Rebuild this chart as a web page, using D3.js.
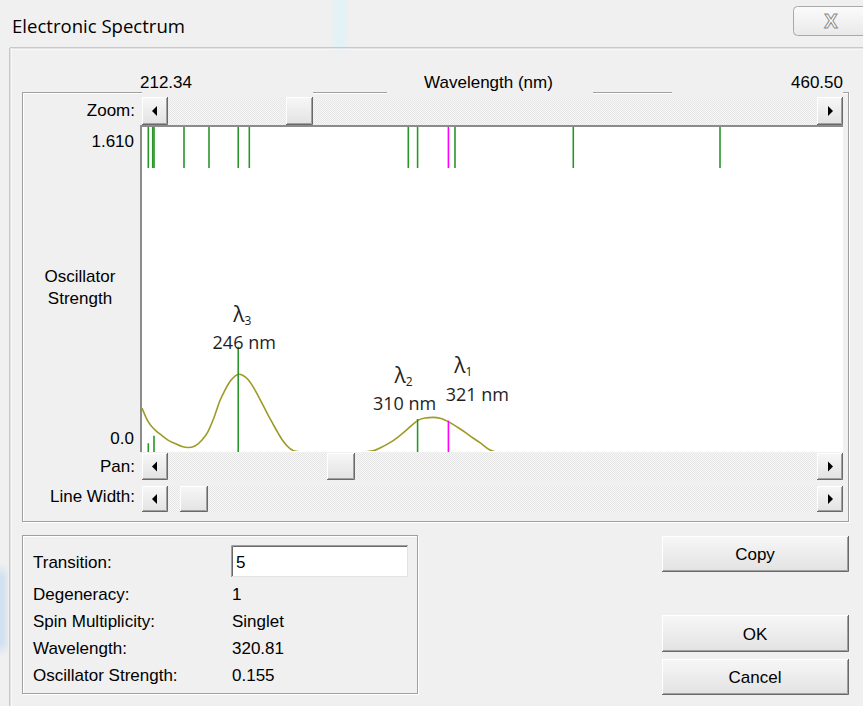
<!DOCTYPE html>
<html>
<head>
<meta charset="utf-8">
<script src="https://cdn.jsdelivr.net/npm/d3@7"></script>
<style>
  html, body { margin: 0; padding: 0; background: #f0f0f0; }
  svg { display: block; }
</style>
</head>
<body>
<svg id="dlg" width="863" height="706"></svg>
<script>
// ---- Spectrum data -------------------------------------------------------
// Computed excitations: wavelength (nm) and oscillator strength
const transitionNm = [214.57, 216.13, 216.59, 227.21, 236.06, 246.40, 250.33, 306.61, 309.90, 320.81, 323.14, 365.02, 416.96];
const oscStrength  = [0.043, 0.003, 0.080, 0.004, 0.002, 0.520, 0.001, 0.002, 0.163, 0.155, 0.001, 0.000, 0.000];

// Currently selected transition
const selectedIndex = 5;
const selectedNm = 320.81;
const selectedStrength = 0.155;
const selectedDegeneracy = 1;
const selectedSpin = "Singlet";

// Broadened absorption envelope
const curveNm = [212.34, 214.46, 216.94, 219.42, 221.54, 224.02, 226.50, 228.62, 231.10, 233.58,
                 235.70, 237.83, 239.95, 241.72, 243.49, 245.26, 246.68, 248.09, 249.86, 251.63,
                 253.40, 255.17, 256.95, 258.72, 260.49, 262.26, 264.74, 267.21, 270.00, 280.00,
                 290.00, 294.12, 296.59, 300.13, 302.96, 306.04, 307.92, 310.04, 312.52, 315.35,
                 318.18, 321.37, 324.20, 327.28, 329.52, 331.99, 335.53, 338.01, 345.00, 360.00,
                 400.00, 460.50];
const curveF  = [0.217, 0.151, 0.109, 0.081, 0.059, 0.042, 0.027, 0.022, 0.030, 0.059,
                 0.101, 0.170, 0.254, 0.306, 0.348, 0.375, 0.384, 0.378, 0.358, 0.323,
                 0.279, 0.232, 0.183, 0.138, 0.094, 0.054, 0.017, 0.002, 0.000, 0.000,
                 0.000, 0.006, 0.020, 0.046, 0.074, 0.109, 0.133, 0.156, 0.168, 0.171,
                 0.165, 0.145, 0.121, 0.092, 0.069, 0.046, 0.010, 0.000, 0.000, 0.000,
                 0.000, 0.000];

// Axis range and labels
const wavelengthRange = [212.34, 460.50];
const strengthRange = [0, 1.610];
const axisTitle = "Wavelength (nm)";
const yTitle = ["Oscillator", "Strength"];

// Annotated peaks
const peakNm  = [246.40, 309.90, 320.81];
const peakF   = [0.520, 0.163, 0.155];
const peakSub = ["3", "2", "1"];

// ---- Drawing -------------------------------------------------------------
const svg = d3.select("#dlg");
const UI = "'Liberation Sans', Arial, sans-serif";
const BG = "#f0f0f0";

const defs = svg.append("defs");
const dither = defs.append("pattern").attr("id", "dither")
  .attr("width", 2).attr("height", 2).attr("patternUnits", "userSpaceOnUse");
dither.append("rect").attr("width", 2).attr("height", 2).attr("fill", "#f7f7f7");
dither.append("rect").attr("width", 1).attr("height", 1).attr("fill", "#e6e6e6");
dither.append("rect").attr("x", 1).attr("y", 1).attr("width", 1).attr("height", 1).attr("fill", "#e6e6e6");

const btnGrad = defs.append("linearGradient").attr("id", "btnGrad").attr("x1", 0).attr("y1", 0).attr("x2", 0).attr("y2", 1);
btnGrad.append("stop").attr("offset", 0).attr("stop-color", "#f7f7f7");
btnGrad.append("stop").attr("offset", 1).attr("stop-color", "#e2e2e2");

const closeGrad = defs.append("linearGradient").attr("id", "closeGrad").attr("x1", 0).attr("y1", 0).attr("x2", 0).attr("y2", 1);
closeGrad.append("stop").attr("offset", 0).attr("stop-color", "#fbfbfb");
closeGrad.append("stop").attr("offset", 1).attr("stop-color", "#e9e9e9");

defs.append("filter").attr("id", "soft").append("feGaussianBlur").attr("stdDeviation", 4);

defs.append("clipPath").attr("id", "plotClip").append("rect")
  .attr("x", 142).attr("y", 127).attr("width", 701).attr("height", 324);

svg.append("rect").attr("width", 863).attr("height", 706).attr("fill", BG);

// faint desktop glow behind the window frame
svg.append("rect").attr("x", 334).attr("y", -10).attr("width", 12).attr("height", 60)
  .attr("fill", "#d9f3fa").attr("opacity", 0.8).attr("filter", "url(#soft)");
svg.append("rect").attr("x", -6).attr("y", 570).attr("width", 12).attr("height", 80)
  .attr("fill", "#b9d6ee").attr("opacity", 0.7).attr("filter", "url(#soft)");

function txt(x, y, s, opts = {}) {
  const t = svg.append("text").attr("x", x).attr("y", y)
    .attr("font-family", opts.family || UI)
    .attr("font-size", opts.size || 17)
    .attr("fill", opts.fill || "#000")
    .attr("text-anchor", opts.anchor || "start")
    .text(s);
  return t;
}

function etchedLine(x1, y1, x2, y2) {
  const horiz = y1 === y2;
  svg.append("line").attr("x1", x1).attr("y1", y1).attr("x2", x2).attr("y2", y2)
    .attr("stroke", "#a0a0a0").attr("stroke-width", 1);
  svg.append("line")
    .attr("x1", x1 + (horiz ? 0 : 1)).attr("y1", y1 + (horiz ? 1 : 0))
    .attr("x2", x2 + (horiz ? 0 : 1)).attr("y2", y2 + (horiz ? 1 : 0))
    .attr("stroke", "#ffffff").attr("stroke-width", 1);
}

function etchedBox(x0, y0, x1, y1) {
  svg.append("rect").attr("x", x0 + 1.5).attr("y", y0 + 1.5).attr("width", x1 - x0 - 1).attr("height", y1 - y0 - 1)
    .attr("fill", "none").attr("stroke", "#ffffff");
  svg.append("rect").attr("x", x0 + 0.5).attr("y", y0 + 0.5).attr("width", x1 - x0 - 1).attr("height", y1 - y0 - 1)
    .attr("fill", "none").attr("stroke", "#a0a0a0");
}

function raised(x0, y0, x1, y1, fill) {
  const g = svg.append("g");
  g.append("rect").attr("x", x0).attr("y", y0).attr("width", x1 - x0).attr("height", y1 - y0)
    .attr("fill", fill || "url(#btnGrad)");
  g.append("path").attr("d", `M${x0 + 0.5},${y1 - 1}V${y0 + 0.5}H${x1 - 1}`)
    .attr("fill", "none").attr("stroke", "#ffffff");
  g.append("path").attr("d", `M${x0 + 1},${y1 - 1.5}H${x1 - 1.5}V${y0 + 1}`)
    .attr("fill", "none").attr("stroke", "#a0a0a0");
  g.append("path").attr("d", `M${x0},${y1 - 0.5}H${x1 - 0.5}V${y0}`)
    .attr("fill", "none").attr("stroke", "#696969");
  return g;
}

function scrollbar(x0, x1, y0, y1, t0, t1) {
  svg.append("rect").attr("x", x0).attr("y", y0).attr("width", x1 - x0).attr("height", y1 - y0)
    .attr("fill", "url(#dither)");
  const cy = (y0 + y1) / 2;
  raised(x0, y0, x0 + 26, y1);
  raised(x1 - 26, y0, x1, y1);
  raised(t0, y0, t1, y1);
  const lx = x0 + 13, rx = x1 - 13;
  svg.append("path").attr("d", `M${lx + 2},${cy - 5}L${lx - 3},${cy}L${lx + 2},${cy + 5}Z`).attr("fill", "#000");
  svg.append("path").attr("d", `M${rx - 2},${cy - 5}L${rx + 3},${cy}L${rx - 2},${cy + 5}Z`).attr("fill", "#000");
}

// window title and close button
txt(12, 33, "Electronic Spectrum", { family: "'Open Sans', 'Noto Sans', sans-serif", size: 18, fill: "#000" })
  .attr("textLength", 173).attr("lengthAdjust", "spacingAndGlyphs");
svg.append("rect").attr("x", 793.5).attr("y", 6.5).attr("width", 80).attr("height", 29).attr("rx", 4)
  .attr("fill", "url(#closeGrad)").attr("stroke", "#a9a9a9");
svg.append("text").attr("x", 831).attr("y", 28).attr("text-anchor", "middle")
  .attr("font-family", UI).attr("font-size", 20).attr("font-weight", "bold")
  .attr("fill", "#ffffff").attr("stroke", "#8a8a8a").attr("stroke-width", 1).text("X");

// outer frame
etchedLine(10, 48, 863, 48);
etchedLine(10, 48, 10, 706);

// spectrum panel
etchedBox(22, 92, 849, 522);
// static text controls above the zoom bar hide parts of the panel border
[[142, 313], [387, 593], [672, 843]].forEach(([a, b]) =>
  svg.append("rect").attr("x", a).attr("y", 66).attr("width", b - a).attr("height", 28).attr("fill", BG));

// scales
const x = d3.scaleLinear().domain(wavelengthRange).range([142, 843]);
const y = d3.scaleLinear().domain(strengthRange).range([452, 126]);

txt(x(wavelengthRange[0]) + 24, 88, wavelengthRange[0].toFixed(2), { anchor: "middle" });
txt((x.range()[0] + x.range()[1]) / 2 - 4, 88, axisTitle, { anchor: "middle" });
txt(x(wavelengthRange[1]), 88, wavelengthRange[1].toFixed(2), { anchor: "end" });

// zoom bar
txt(135, 116, "Zoom:", { anchor: "end" });
scrollbar(142, 843, 97, 125, 286, 313);

// plot area
svg.append("rect").attr("x", 142).attr("y", 126).attr("width", 701).attr("height", 326).attr("fill", "#ffffff");
svg.append("line").attr("x1", 141).attr("y1", 126).attr("x2", 843).attr("y2", 126)
  .attr("stroke", "#8c8c8c").attr("stroke-width", 2);
svg.append("line").attr("x1", 141).attr("y1", 125).attr("x2", 141).attr("y2", 452)
  .attr("stroke", "#8c8c8c").attr("stroke-width", 2);

txt(134, 147, strengthRange[1].toFixed(3), { anchor: "end" });
txt(134, 444, strengthRange[0].toFixed(1), { anchor: "end" });
txt(80, 282, yTitle[0], { anchor: "middle" });
txt(80, 304, yTitle[1], { anchor: "middle" });

const transitions = transitionNm.map((nm, i) => ({ nm, f: oscStrength[i], sel: nm === selectedNm }));
const GREEN = "#2a962a", MAGENTA = "#ff00ff";

// position strip: one tick per transition along the top of the plot
svg.append("g").selectAll("line").data(transitions).join("line")
  .attr("x1", d => x(d.nm)).attr("x2", d => x(d.nm))
  .attr("y1", 127).attr("y2", 168)
  .attr("stroke", d => d.sel ? MAGENTA : GREEN).attr("stroke-width", 1.6);

// broadened spectrum
const pts = curveNm.map((nm, i) => [nm, curveF[i]]);
svg.append("path").datum(pts)
  .attr("clip-path", "url(#plotClip)")
  .attr("d", d3.line().x(d => x(d[0])).y(d => y(d[1])).curve(d3.curveMonotoneX))
  .attr("fill", "none").attr("stroke", "#9d9b25").attr("stroke-width", 1.6);

// oscillator strength sticks
svg.append("g").selectAll("line").data(transitions.filter(d => y(0) - y(d.f) >= 1)).join("line")
  .attr("x1", d => x(d.nm)).attr("x2", d => x(d.nm))
  .attr("y1", y(0)).attr("y2", d => y(d.f))
  .attr("stroke", d => d.sel ? MAGENTA : GREEN).attr("stroke-width", 1.6);

// peak annotations (label offsets relative to each stick top)
const lamDx = [4, -14, 15], numDx = [6, -13, 29];
const lamDy = [-25, -36, -48], numDy = [2, -9, -20];
const LF = "'Open Sans', 'Noto Sans', sans-serif";
peakNm.forEach((nm, i) => {
  const sx = x(nm), sy = y(peakF[i]);
  const t = svg.append("text").attr("x", sx + lamDx[i]).attr("y", sy + lamDy[i])
    .attr("text-anchor", "middle").attr("font-family", LF).attr("fill", "#1e1e1e");
  t.append("tspan").attr("font-size", 21).text("λ");
  t.append("tspan").attr("font-size", 12).attr("dy", 3).text(peakSub[i]);
  svg.append("text").attr("x", sx + numDx[i]).attr("y", sy + numDy[i])
    .attr("text-anchor", "middle").attr("font-family", LF).attr("font-size", 18)
    .attr("fill", "#1e1e1e").text(Math.round(nm) + " nm");
});

// pan and line width bars
txt(135, 472, "Pan:", { anchor: "end" });
scrollbar(142, 843, 453, 480, 327, 355);
txt(135, 502, "Line Width:", { anchor: "end" });
scrollbar(142, 843, 486, 512, 180, 208);

// transition details
etchedBox(22, 535, 418, 694);
const rows = [["Transition:", null], ["Degeneracy:", String(selectedDegeneracy)],
              ["Spin Multiplicity:", selectedSpin], ["Wavelength:", selectedNm.toFixed(2)],
              ["Oscillator Strength:", selectedStrength.toFixed(3)]];
const rowY = [568, 600, 627, 654, 681];
rows.forEach(([lab, val], i) => {
  txt(33, rowY[i], lab);
  if (val !== null) txt(232, rowY[i], val);
});
// transition number entry field
svg.append("rect").attr("x", 231).attr("y", 545).attr("width", 177).attr("height", 32).attr("fill", "#ffffff");
svg.append("path").attr("d", "M231.5,577V545.5H408").attr("fill", "none").attr("stroke", "#a0a0a0");
svg.append("path").attr("d", "M232.5,576V546.5H407").attr("fill", "none").attr("stroke", "#696969");
svg.append("path").attr("d", "M232,576.5H407.5V546").attr("fill", "none").attr("stroke", "#e3e3e3");
txt(236, 568, String(selectedIndex));

// dialog buttons
[["Copy", 536, 572], ["OK", 615, 652], ["Cancel", 659, 695]].forEach(([lab, y0, y1]) => {
  raised(662, y0, 849, y1, "url(#btnGrad)");
  txt(755, (y0 + y1) / 2 + 6, lab, { anchor: "middle" });
});
</script>
</body>
</html>
